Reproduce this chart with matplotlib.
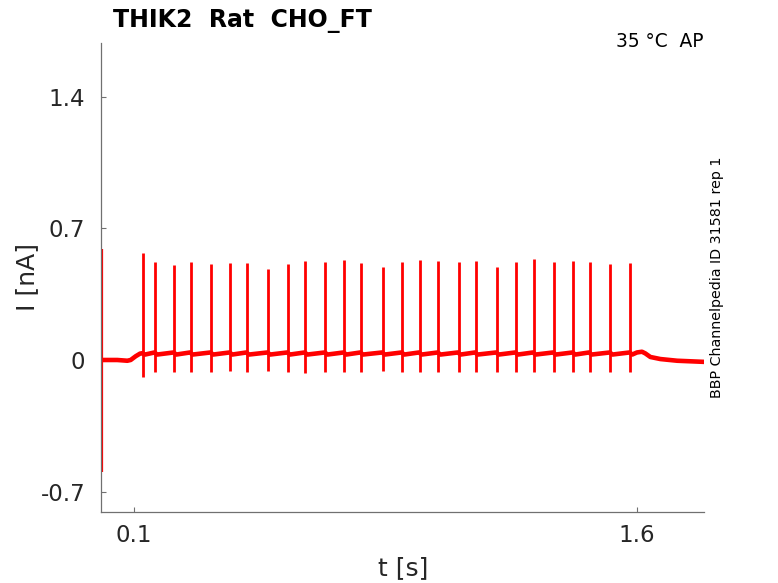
import matplotlib
matplotlib.use("Agg")
import matplotlib.pyplot as plt
import numpy as np

# ---- data ----
spike_t = [0.127, 0.163, 0.220, 0.269, 0.330, 0.387, 0.437, 0.500, 0.559, 0.611,
           0.671, 0.727, 0.777, 0.842, 0.900, 0.952, 1.008, 1.068, 1.119, 1.182,
           1.239, 1.292, 1.352, 1.410, 1.459, 1.521, 1.580]
spike_peak = [0.571, 0.520, 0.506, 0.523, 0.513, 0.515, 0.515, 0.484, 0.509, 0.527,
              0.520, 0.532, 0.515, 0.493, 0.520, 0.532, 0.527, 0.520, 0.527, 0.497,
              0.523, 0.536, 0.523, 0.525, 0.523, 0.509, 0.516]
spike_dip = [-0.090, -0.064, -0.064, -0.064, -0.064, -0.058, -0.064, -0.058, -0.064, -0.067,
             -0.066, -0.062, -0.064, -0.060, -0.064, -0.062, -0.064, -0.066, -0.064, -0.066,
             -0.062, -0.064, -0.064, -0.062, -0.066, -0.064, -0.064]
post_spike_base = 0.029
pre_spike_base = 0.040

pre_t = [0.0, 0.05, 0.08, 0.09, 0.105, 0.118]
pre_i = [0.0, 0.0, -0.004, 0.0, 0.02, 0.034]
end_t = [1.60, 1.615, 1.625, 1.64, 1.67, 1.72, 1.80]
end_i = [0.040, 0.044, 0.035, 0.016, 0.005, -0.004, -0.010]

artifact_t = 0.0
artifact_lo = -0.596
artifact_hi = 1.485

xticks = [0.1, 1.6]
xticklabels = ["0.1", "1.6"]
yticks = [-0.7, 0.0, 0.7, 1.4]
yticklabels = ["-0.7", "0", "0.7", "1.4"]

title = "THIK2  Rat  CHO_FT"
cond = "35 °C  AP"
side = "BBP Channelpedia ID 31581 rep 1"

# ---- figure ----
W, H = 778, 583
fig = plt.figure(figsize=(W / 100, H / 100), dpi=100)
left, right, top, bottom = 100.5, 704, 43, 512
ax = fig.add_axes([left / W, 1 - bottom / H, (right - left) / W, (bottom - top) / H])

# baseline polyline built from data
bt = list(pre_t)
bi = list(pre_i)
for k, t in enumerate(spike_t):
    bt.append(t - 0.002)
    bi.append(pre_spike_base if k > 0 else 0.036)
    bt.append(t + 0.006)
    bi.append(post_spike_base)
bt += end_t
bi += end_i

red = "#ff0000"
ax.plot(bt, bi, color=red, lw=3.3, solid_joinstyle="round")
ax.vlines(spike_t, spike_dip, spike_peak, color=red, lw=2.0)
ax.vlines([artifact_t + 0.003], [artifact_lo], [0.59], color=red, lw=1.6)
ax.vlines([artifact_t], [0.59], [artifact_hi], color="#8b0000", lw=1.4)

ax.set_xlim(0, 1.8)
ax.set_ylim(-0.809, 1.687)
ax.set_xticks(xticks)
ax.set_xticklabels(xticklabels)
ax.set_yticks(yticks)
ax.set_yticklabels(yticklabels)

for s in ["top", "right"]:
    ax.spines[s].set_visible(False)
for s in ["left", "bottom"]:
    ax.spines[s].set_color("#707070")
    ax.spines[s].set_linewidth(0.9)

ax.tick_params(axis="both", direction="in", length=3.6, width=0.8, color="#707070",
               labelcolor="#262626", labelsize=16.5)
ax.tick_params(axis="y", pad=11)
ax.tick_params(axis="x", pad=9)

fig.text(403 / W, 1 - 568 / H, "t [s]", ha="center", va="center", fontsize=18, color="#262626")
fig.text(27 / W, 1 - 277 / H, "I [nA]", ha="center", va="center", rotation=90, fontsize=18, color="#262626")
fig.text(113 / W, 1 - 27 / H, title, ha="left", va="baseline", fontsize=17.0, fontweight="bold", color="black")
fig.text(703 / W, 1 - 47 / H, cond, ha="right", va="baseline", fontsize=13.4, color="black")
fig.text(717 / W, 1 - 277 / H, side, ha="center", va="center", rotation=90, fontsize=10.3, color="black")

fig.savefig("out.png", dpi=100)
